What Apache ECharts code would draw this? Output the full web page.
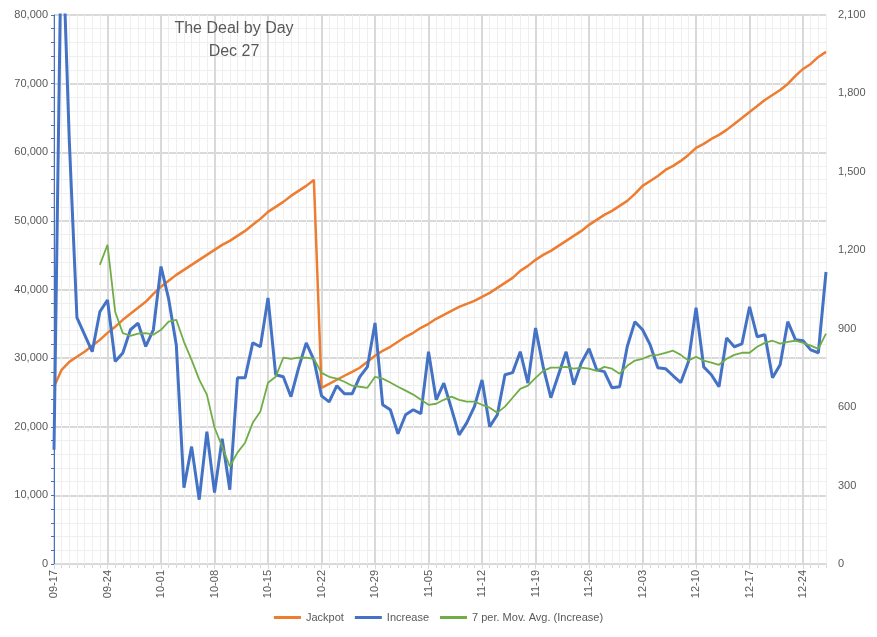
<!DOCTYPE html>
<html>
<head>
<meta charset="utf-8">
<title>The Deal by Day</title>
<script src="https://cdn.jsdelivr.net/npm/echarts/dist/echarts.min.js"></script>
<style>
    html,body{
        margin:0;
        padding:0;
        background:#fff;
    }
    #chart{
        width:877px;
        height:637px;
    }
</style>
</head>
<body>
<div id="chart"></div>
<script>
var days = [
    '09-17','09-18','09-19','09-20','09-21','09-22','09-23','09-24','09-25','09-26','09-27','09-28','09-29','09-30',
    '10-01','10-02','10-03','10-04','10-05','10-06','10-07','10-08','10-09','10-10','10-11','10-12','10-13','10-14',
    '10-15','10-16','10-17','10-18','10-19','10-20','10-21','10-22','10-23','10-24','10-25','10-26','10-27','10-28',
    '10-29','10-30','10-31','11-01','11-02','11-03','11-04','11-05','11-06','11-07','11-08','11-09','11-10','11-11',
    '11-12','11-13','11-14','11-15','11-16','11-17','11-18','11-19','11-20','11-21','11-22','11-23','11-24','11-25',
    '11-26','11-27','11-28','11-29','11-30','12-01','12-02','12-03','12-04','12-05','12-06','12-07','12-08','12-09',
    '12-10','12-11','12-12','12-13','12-14','12-15','12-16','12-17','12-18','12-19','12-20','12-21','12-22','12-23',
    '12-24','12-25','12-26','12-27'
];

// left axis
var jackpot = [
    25820,28300,29460,30190,30920,31790,32660,33680,34560,35580,36460,37330,38200,39370,
    40390,41260,42130,42860,43590,44320,45050,45770,46500,47090,47820,48540,49420,50290,
    51310,52040,52770,53640,54370,55100,55970,25680,26260,26850,27430,28010,28600,29460,
    30340,31070,31650,32380,33110,33690,34420,35000,35730,36310,36890,37470,37910,38350,
    38930,39510,40240,40970,41700,42720,43440,44320,45050,45630,46360,47090,47820,48540,
    49420,50150,50870,51460,52190,52910,53930,55100,55820,56550,57420,58010,58740,59610,
    60630,61220,61940,62530,63260,64130,65000,65880,66750,67620,68350,69080,69950,71120,
    72140,72870,73890,74620
];

// right axis
var increase = [
    437,2500,1620,942,877,812,965,1010,775,807,896,921,832,896,
    1138,1014,838,292,449,246,506,273,479,284,712,712,846,831,
    1018,724,716,640,750,846,781,643,620,682,651,651,716,754,
    922,609,590,498,571,590,575,812,628,692,594,494,540,602,
    704,525,571,724,732,812,692,903,754,636,724,812,686,770,
    823,743,736,674,678,832,927,896,838,751,747,720,694,774,
    980,754,724,678,865,831,842,984,869,877,712,762,927,858,
    854,819,808,1117
];

var movAvg = [
    null,null,null,null,null,null,1144,1221,965,883,873,881,883,877,
    896,927,934,850,781,705,648,522,449,373,426,464,540,583,
    693,716,789,785,789,789,785,731,716,709,697,682,678,674,
    716,709,694,678,663,648,628,609,613,628,640,628,621,621,
    609,598,579,602,636,670,682,712,739,751,751,754,747,751,
    747,739,754,747,728,758,778,785,797,800,808,816,800,778,
    793,778,770,762,785,800,808,808,831,846,854,843,850,854,
    846,835,823,881
];

(function() {
    var font = '"Liberation Sans", Arial, sans-serif';
    var grey = '#595959';
    var myChart = echarts.init(document.getElementById('chart'));

    myChart.setOption({
        animation: false,
        textStyle: { fontFamily: font },
        title: {
            text: 'The Deal by Day\nDec 27',
            left: 229,
            top: 12,
            textAlign: 'center',
            textStyle: {
                fontSize: 16,
                fontWeight: 'normal',
                color: grey,
                lineHeight: 23,
                fontFamily: font
            }
        },
        legend: {
            top: 607,
            left: 'center',
            icon: 'rect',
            itemWidth: 27,
            itemHeight: 3,
            itemGap: 11,
            textStyle: { fontSize: 11, color: grey, fontFamily: font },
            data: ['Jackpot', 'Increase', '7 per. Mov. Avg. (Increase)']
        },
        grid: {
            left: 54,
            right: 51,
            top: 15,
            bottom: 73,
            containLabel: false,
            outerBoundsMode: 'none'
        },
        xAxis: [
            {
                // daily grid lines and ticks only
                type: 'category',
                position: 'bottom',
                data: days,
                boundaryGap: false,
                axisLine: { show: false },
                axisLabel: { show: false },
                axisTick: { show: true, interval: 0, length: 4, lineStyle: { color: '#D9D9D9' } },
                splitLine: { show: true, interval: 0, lineStyle: { color: '#EFEFEF', width: 1 } }
            },
            {
                type: 'category',
                position: 'bottom',
                data: days,
                boundaryGap: false,
                axisLine: { show: true, lineStyle: { color: '#D9D9D9', width: 1 } },
                axisTick: { show: true, interval: 6, length: 5, lineStyle: { color: '#D9D9D9' } },
                axisLabel: {
                    interval: 6,
                    rotate: 90,
                    margin: 6,
                    fontSize: 11,
                    color: grey,
                    fontFamily: font
                },
                splitLine: { show: true, interval: 6, lineStyle: { color: '#D9D9D9', width: 2 } }
            }
        ],
        yAxis: [
            {
                type: 'value',
                min: 0,
                max: 80000,
                interval: 10000,
                axisLine: { show: true, lineStyle: { color: '#4472C4', width: 1 } },
                axisTick: { show: true, length: 3, lineStyle: { color: '#4472C4' } },
                minorTick: { show: true, splitNumber: 5, length: 3, lineStyle: { color: '#4472C4' } },
                axisLabel: { margin: 6, fontSize: 11, color: grey, fontFamily: font },
                splitLine: { show: true, lineStyle: { color: '#D9D9D9', width: 2 } },
                minorSplitLine: { show: true, lineStyle: { color: '#EFEFEF', width: 1 } }
            },
            {
                type: 'value',
                min: 0,
                max: 2100,
                interval: 300,
                position: 'right',
                axisLine: { show: false },
                axisTick: { show: false },
                axisLabel: { margin: 12, fontSize: 11, color: grey, fontFamily: font },
                splitLine: { show: false }
            }
        ],
        series: [
            {
                name: 'Jackpot',
                type: 'line',
                xAxisIndex: 1,
                yAxisIndex: 0,
                data: jackpot,
                symbol: 'none',
                lineStyle: { color: '#ED7D31', width: 2.5 },
                itemStyle: { color: '#ED7D31' }
            },
            {
                name: 'Increase',
                type: 'line',
                xAxisIndex: 1,
                yAxisIndex: 1,
                data: increase,
                symbol: 'none',
                clip: true,
                lineStyle: { color: '#4472C4', width: 3 },
                itemStyle: { color: '#4472C4' }
            },
            {
                name: '7 per. Mov. Avg. (Increase)',
                type: 'line',
                xAxisIndex: 1,
                yAxisIndex: 1,
                data: movAvg,
                symbol: 'none',
                lineStyle: { color: '#70AD47', width: 1.8 },
                itemStyle: { color: '#70AD47' }
            }
        ]
    });
})()
</script>
</body>
</html>
